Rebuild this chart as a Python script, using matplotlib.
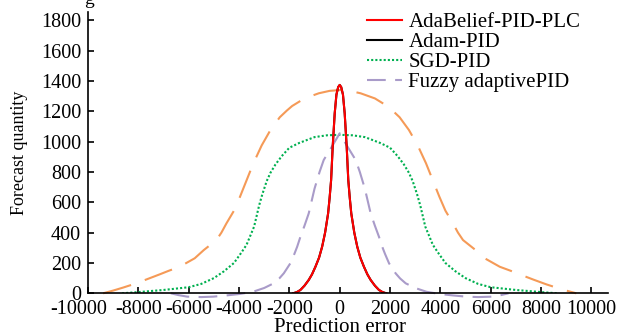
import matplotlib
matplotlib.use("Agg")
import matplotlib.pyplot as plt
import matplotlib.transforms as mtransforms

plt.rcParams['font.family'] = ['Liberation Serif', 'DejaVu Serif']

# ---- data ----
ada_x = [-1850, -1700, -1560, -1400, -1230, -1100, -964, -820, -698, -580, -460, -400, -341, -278, -198, -130, -60, 0,
         60, 130, 198, 278, 341, 400, 460, 580, 698, 820, 964, 1100, 1230, 1400, 1560, 1700, 1850]
ada_y = [0, 8, 22, 50, 88, 125, 175, 235, 307, 400, 527, 630, 747, 967, 1187, 1310, 1360, 1374,
         1360, 1310, 1187, 967, 747, 630, 527, 400, 307, 235, 175, 125, 88, 50, 22, 8, 0]

adam_x = ada_x
adam_y = ada_y

sgd_x = [-8650, -8000, -7000, -6000, -5500, -5000, -4600, -4200, -3900, -3700, -3400, -3200, -3080, -2900,
         -2750, -2550, -2300, -2000, -1600, -1000, -500, 0,
         500, 1000, 1600, 2000, 2300, 2550, 2750, 2900, 3080, 3200, 3400, 3700, 3900, 4200, 4600, 5000,
         5500, 6000, 7000, 8000, 8650]
sgd_y = [0, 8, 22, 40, 62, 100, 145, 200, 270, 320, 440, 580, 650, 740,
         795, 850, 905, 960, 992, 1030, 1042, 1045,
         1042, 1030, 992, 960, 905, 850, 795, 740, 650, 580, 440, 320, 270, 200, 145, 100,
         62, 40, 22, 8, 0]

fuzzy_x = [-6710, -6400, -6060, -5500, -5020, -4500, -4000, -3700, -3450, -3000, -2620, -2400, -2220, -1960,
           -1800, -1690, -1560, -1400, -1230, -1000, -800, -635, -300, 0,
           300, 635, 800, 1000, 1230, 1400, 1560, 1690, 1800, 1960, 2220, 2400, 2620, 3000, 3450, 3700,
           4000, 4500, 5020, 5500, 6060, 6400, 6710]
fuzzy_y = [0, -12, -22, -25, -22, -14, -5, 3, 10, 35, 66, 98, 132, 198,
           260, 307, 373, 445, 527, 690, 800, 879, 970, 1055,
           970, 879, 800, 690, 527, 445, 373, 307, 260, 198, 132, 98, 66, 35, 10, 3,
           -5, -14, -22, -25, -22, -12, 0]

pid_x = [-9400, -9000, -8600, -8210, -7700, -7150, -6800, -6360, -5760, -5400, -4900, -4700, -4500, -4200,
         -3960, -3700, -3430, -3100, -2750, -2380, -2100, -1890, -1400, -830, -400, 0,
         400, 830, 1400, 1890, 2100, 2380, 2750, 3100, 3430, 3700, 3960, 4200, 4500, 4700, 4900, 5400,
         5760, 6360, 6800, 7150, 7700, 8210, 8600, 9000, 9400]
pid_y = [0, 18, 38, 59, 90, 125, 148, 175, 231, 285, 351, 400, 461, 545,
         637, 745, 857, 975, 1077, 1161, 1205, 1235, 1285, 1319, 1335, 1340,
         1335, 1319, 1285, 1235, 1205, 1161, 1077, 975, 857, 745, 637, 545, 461, 400, 351, 285,
         231, 175, 148, 125, 90, 59, 38, 18, 0]

labels = ["AdaBelief-PID-PLC", "Adam-PID", "SGD-PID", "Fuzzy adaptivePID"]
xticks = [-10000, -8000, -6000, -4000, -2000, 0, 2000, 4000, 6000, 8000, 10000]
yticks = [0, 200, 400, 600, 800, 1000, 1200, 1400, 1600, 1800]

fig = plt.figure(figsize=(6.23, 3.33), dpi=100)
ax = fig.add_axes([88/623, 1-293.3/333, (608-88)/623, (293.3-12)/333])

ax.plot(pid_x, pid_y, color='#f59a57', lw=1.5, dashes=(14, 7), clip_on=False)
ax.plot(sgd_x, sgd_y, color='#00b050', lw=1.5, dashes=(1, 1), label=labels[2])
ax.plot(fuzzy_x, fuzzy_y, color='#a99bc9', lw=1.5, dashes=(9, 4.5), clip_on=False, label=labels[3])
ax.plot(adam_x, adam_y, color='black', lw=1.5, label=labels[1])
ax.plot(ada_x, ada_y, color='#ff0000', lw=1.5, label=labels[0])

ax.set_xlim(-10000, 10660)
ax.set_ylim(0, 1855)
ax.set_xticks(xticks)
ax.set_yticks(yticks)
ax.set_xticklabels([str(v) for v in xticks])
ax.spines['top'].set_visible(False)
ax.spines['right'].set_visible(False)
for s in ['left', 'bottom']:
    ax.spines[s].set_linewidth(1.2)
ax.tick_params(direction='in', length=4, width=1.2, labelsize=14.5, pad=5)

# the leftmost label sits a little left of its tick in the reference
lab0 = ax.get_xticklabels()[0]
lab0.set_transform(lab0.get_transform() + mtransforms.ScaledTranslation(-9/100, 0, fig.dpi_scale_trans))

ax.set_xlabel("Prediction error", fontsize=15)
ax.xaxis.set_label_coords(0.0, 1 - 318/333,
                          transform=mtransforms.blended_transform_factory(ax.transData, fig.transFigure))
ax.xaxis.label.set_va('top')
ax.set_ylabel("Forecast quantity", fontsize=13)
ax.yaxis.set_label_coords(28/623, 0.5, transform=mtransforms.blended_transform_factory(fig.transFigure, ax.transAxes))

h, l = ax.get_legend_handles_labels()
hd = dict(zip(l, h))
ax.legend([hd[k] for k in labels], labels, loc='upper left', bbox_to_anchor=(0.52, 1.028),
          frameon=False, fontsize=15, handlelength=1.7, handletextpad=0.3,
          labelspacing=0.02, borderaxespad=0)

fig.text(0.143, 1.0, 'g', fontsize=14, va='center', ha='center')

fig.savefig("out.png", dpi=100)
